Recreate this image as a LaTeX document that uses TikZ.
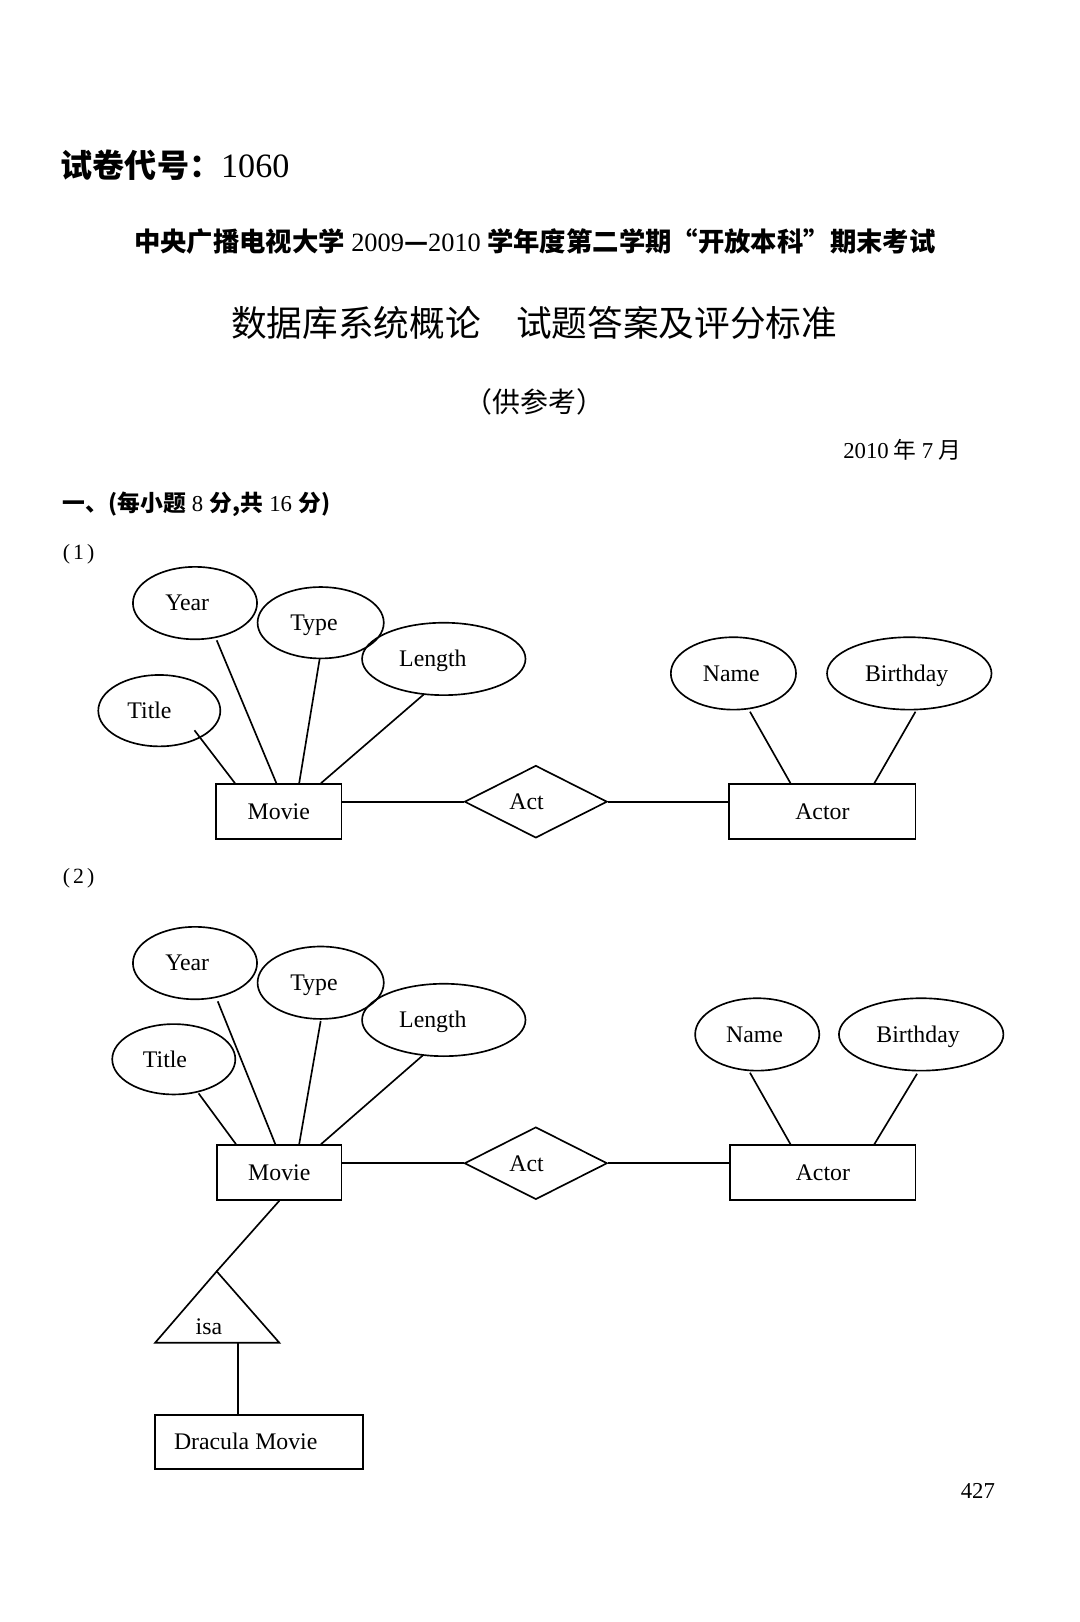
\documentclass[tikz,border=0pt]{standalone}
\usepackage{fontspec}
\setmainfont{Liberation Serif}
\newfontfamily\cjk{Noto Sans CJK SC}
\usetikzlibrary{shapes.geometric}
\begin{document}
\begin{tikzpicture}[x=1pt,y=-1pt,line width=1.6pt,
  lbl/.style={font=\fontsize{23}{23}\selectfont, text height=15.2pt, text depth=0pt},
  attr/.style={lbl, draw, ellipse, inner sep=0pt},
  ent/.style={lbl, draw, rectangle, inner sep=0pt, minimum height=53pt},
  rel/.style={lbl, draw, diamond, inner sep=0pt, minimum width=138pt, minimum height=70pt},
  conn/.style={line width=1.6pt},
  txt/.style={inner sep=0pt}
]
\useasboundingbox[fill=white] (0,0) rectangle (1044,1568);

% ---------- header ----------
\node[txt, anchor=base west] (code) at (58,172) {{\cjk\bfseries\fontsize{31}{31}\selectfont 试卷代号：}{\fontsize{33}{33}\selectfont 1060}};
\node[txt, anchor=base] (line2) at (517,243) {\fontsize{25.5}{25.5}\selectfont{\cjk\bfseries 中央广播电视大学}\hspace{6pt}2009{\cjk\bfseries —}2010\hspace{6pt}{\cjk\bfseries 学年度第二学期“开放本科”期末考试}};
\node[txt, anchor=base] (line3) at (516.5,325) {\cjk\fontsize{34.5}{34.5}\selectfont 数据库系统概论\hspace{34pt}试题答案及评分标准};
\node[txt, anchor=base] (line4) at (517,399) {\cjk\fontsize{27}{27}\selectfont （供参考）};
\node[txt, anchor=base east] (date) at (930,443) {\fontsize{22}{22}\selectfont 2010\hspace{5pt}{\cjk 年}\hspace{5pt}7\hspace{5pt}{\cjk 月}};
\node[txt, anchor=base west] (sec) at (60,494) {\fontsize{22}{22}\selectfont{\cjk\bfseries 一、(每小题}\hspace{6pt}8\hspace{6pt}{\cjk\bfseries 分,共}\hspace{6pt}16\hspace{6pt}{\cjk\bfseries 分)}};
\node[txt, anchor=base west] (p1) at (60,541) {\fontsize{21}{21}\selectfont (\kern3pt1\kern3pt)};
\node[txt, anchor=base west] (p2) at (60,854) {\fontsize{21}{21}\selectfont (\kern3pt2\kern3pt)};
\node[txt, anchor=base west] (pg) at (928,1449) {\fontsize{22}{22}\selectfont 427};

% ---------- diagram (1) ----------
\node[attr, minimum width=118pt, minimum height=69pt] (t1) at (154,687) {Title\kern19pt};
\node[attr, minimum width=120pt, minimum height=70pt] (y1) at (188.5,583) {Year\kern15pt};
\node[attr, minimum width=122pt, minimum height=69pt] (ty1) at (310,602) {Type\kern13pt};
\node[attr, minimum width=158pt, minimum height=70pt] (l1) at (429,637) {Length\kern21pt};
\node[attr, minimum width=121pt, minimum height=70pt] (n1) at (709,651) {Name\kern4pt};
\node[attr, minimum width=159pt, minimum height=70pt] (b1) at (879,651) {Birthday\kern5pt};
\node[ent, minimum width=121pt] (m1) at (269.5,784.5) {Movie};
\node[rel] (a1) at (518,775) {Act\kern18pt};
\node[ent, minimum width=180pt] (ac1) at (795,784.5) {Actor};

\draw[conn] ([shift={(34,19)}]t1.center) -- ([xshift=19pt]m1.north west);
\draw[conn] ([shift={(21,36)}]y1.center) -- ([xshift=59pt]m1.north west);
\draw[conn] ([shift={(-1,35)}]ty1.center) -- ([xshift=81pt]m1.north west);
\draw[conn] ([shift={(-19,34)}]l1.center) -- ([xshift=102pt]m1.north west);
\draw[conn] ([shift={(16,37)}]n1.center) -- ([xshift=60pt]ac1.north west);
\draw[conn] ([shift={(6,37)}]b1.center) -- ([xshift=141pt]ac1.north west);
\draw[conn] (m1.east |- a1.west) -- (a1.west);
\draw[conn] (a1.east) -- (a1.east -| ac1.west);

% ---------- diagram (2) ----------
\node[attr, minimum width=119pt, minimum height=68pt] (t2) at (168,1024) {Title\kern17pt};
\node[attr, minimum width=120pt, minimum height=70pt] (y2) at (188.5,931) {Year\kern15pt};
\node[attr, minimum width=122pt, minimum height=70pt] (ty2) at (310,950) {Type\kern13pt};
\node[attr, minimum width=158pt, minimum height=70pt] (l2) at (429,986) {Length\kern21pt};
\node[attr, minimum width=120pt, minimum height=70pt] (n2) at (732,1000) {Name\kern5pt};
\node[attr, minimum width=159pt, minimum height=70pt] (b2) at (890.5,1000) {Birthday\kern6pt};
\node[ent, minimum width=120pt] (m2) at (270,1133.5) {Movie};
\node[rel] (a2) at (518,1124.5) {Act\kern18pt};
\node[ent, minimum width=179pt] (ac2) at (795.5,1133.5) {Actor};

\draw[conn] ([shift={(24,33)}]t2.center) -- ([xshift=19pt]m2.north west);
\draw[conn] ([shift={(22,37)}]y2.center) -- ([xshift=57pt]m2.north west);
\draw[conn] ([shift={(0,37)}]ty2.center) -- ([xshift=80pt]m2.north west);
\draw[conn] ([shift={(-20,34)}]l2.center) -- ([xshift=101pt]m2.north west);
\draw[conn] ([shift={(-7,37)}]n2.center) -- ([xshift=59pt]ac2.north west);
\draw[conn] ([shift={(-4,38)}]b2.center) -- ([xshift=140pt]ac2.north west);
\draw[conn] (m2.east |- a2.west) -- (a2.west);
\draw[conn] (a2.east) -- (a2.east -| ac2.west);

% isa triangle and subclass
\coordinate (isaT) at (209.5,1229);
\coordinate (isaL) at (150,1298);
\coordinate (isaR) at (270,1298);
\coordinate (isaB) at (230,1298);
\draw[conn, line join=miter] (isaT) -- (isaL) -- (isaR) -- cycle;
\node[lbl, inner sep=0pt, anchor=base] (isa) at (202,1290) {isa};
\node[ent, minimum width=201pt, minimum height=52pt] (dm) at (250.5,1394) {Dracula Movie\kern26pt};
\draw[conn] (m2.south) -- (isaT);
\draw[conn] (isaB) -- (isaB |- dm.north);
\end{tikzpicture}
\end{document}
